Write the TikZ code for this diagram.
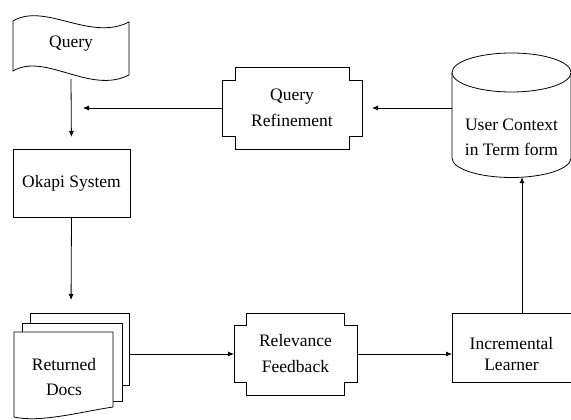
\documentclass[tikz,border=0pt]{standalone}
\usepackage{fontspec}
\setmainfont{Liberation Serif}
\newfontfamily\tmsfont{Liberation Serif}
\usetikzlibrary{arrows.meta,calc}
\tikzset{
  shp/.style={draw=black, line width=0.8pt, fill=white},
  lbl/.style={font=\tmsfont\fontsize{17.5}{25}\selectfont, align=center, inner sep=0pt, outer sep=0pt},
  rectbox/.style={shp, lbl, rectangle},
  arr/.style={draw=black, line width=0.8pt, -{Latex[length=6pt,width=5pt]}}
}
\newcommand\notchbox[2]{%
  \draw[shp] ([xshift=#2]#1.north west) -- ([xshift=-#2]#1.north east) -- ++(0,-#2)
    -- ([yshift=-#2]#1.north east) -- ([yshift=#2]#1.south east) -- ++(-#2,0)
    -- ([xshift=-#2]#1.south east) -- ([xshift=#2]#1.south west) -- ++(0,#2)
    -- ([yshift=#2]#1.south west) -- ([yshift=-#2]#1.north west) -- ++(#2,0) -- cycle;}
\begin{document}
\begin{tikzpicture}[x=1pt,y=1pt]
\useasboundingbox[fill=white] (0,0) rectangle (571,420);

% Query flag
\draw[shp] (13,399) .. controls (45,418) and (90,378) .. (129,398)
  -- (129,345) .. controls (90,325) and (45,368) .. (13,349) -- cycle;
\node[lbl] (query) at (71,376) {Query};
\coordinate (qbot) at (71,341);

% Okapi
\node[rectbox, minimum width=117pt, minimum height=68pt] (okapi) at (71.5,237) {Okapi System};

% Returned docs (stack)
\draw[shp] (30,107) -- (129,107) -- (129,35) -- (30,35) -- cycle;
\draw[shp] (22,97) -- (122,97) -- (122,19) -- (22,19) -- cycle;
\draw[shp] (14,88) -- (113,88) -- (113,13) .. controls (80,8) and (40,-3) .. (14,3) -- cycle;
\node[lbl] (docs) at (64,43) {Returned\\Docs};
\coordinate (docstop) at (71,107);
\coordinate (docsR) at (129,66);

% Query refinement
\node[minimum width=140pt, minimum height=82pt, inner sep=0pt, outer sep=0pt] (refine) at (292,312) {};
\notchbox{refine}{13pt}
\node[lbl, font=\tmsfont\fontsize{17.5}{26}\selectfont] (refinetxt) at (refine.center) {Query\\Refinement};
\coordinate (qin) at (83,312);

% Relevance feedback
\node[minimum width=123pt, minimum height=82pt, inner sep=0pt, outer sep=0pt] (rel) at (295.5,66) {};
\notchbox{rel}{12.5pt}
\node[lbl, font=\tmsfont\fontsize{17.5}{26}\selectfont] (reltxt) at (rel.center) {Relevance\\Feedback};

% Incremental learner
\node[shp, rectangle, minimum width=119pt, minimum height=69pt, inner sep=0pt, outer sep=0pt] (inc) at (511.5,72.5) {};
\node[lbl, font=\tmsfont\fontsize{17.5}{21}\selectfont] (inctxt) at ([yshift=-7pt]inc.center) {Incremental\\Learner};
\coordinate (inctop) at (522,107);

% Cylinder
\draw[shp] (452,347.5) -- (452,262) arc[start angle=180, end angle=360, x radius=59.5, y radius=19.5] -- (571,347.5);
\draw[shp] (511.5,347.5) ellipse [x radius=59.5, y radius=19.5];
\node[lbl] (cyl) at (511.5,283) {User Context\\in Term form};
\coordinate (cylbot) at (522,242.8);
\coordinate (cylL) at (452,312);

% Connectors
\draw[arr, shorten >=12pt] (qbot) -- (okapi.north);
\draw[arr, shorten >=13pt] (okapi.south) -- (docstop);
\draw[arr] (docsR) -- (rel.west);
\draw[arr] (rel.east) -- (rel.east -| inc.west);
\draw[arr] (inctop) -- (cylbot);
\draw[arr, shorten >=10pt] (cylL) -- (refine.east);
\draw[arr] (refine.west) -- (qin);
\end{tikzpicture}
\end{document}
